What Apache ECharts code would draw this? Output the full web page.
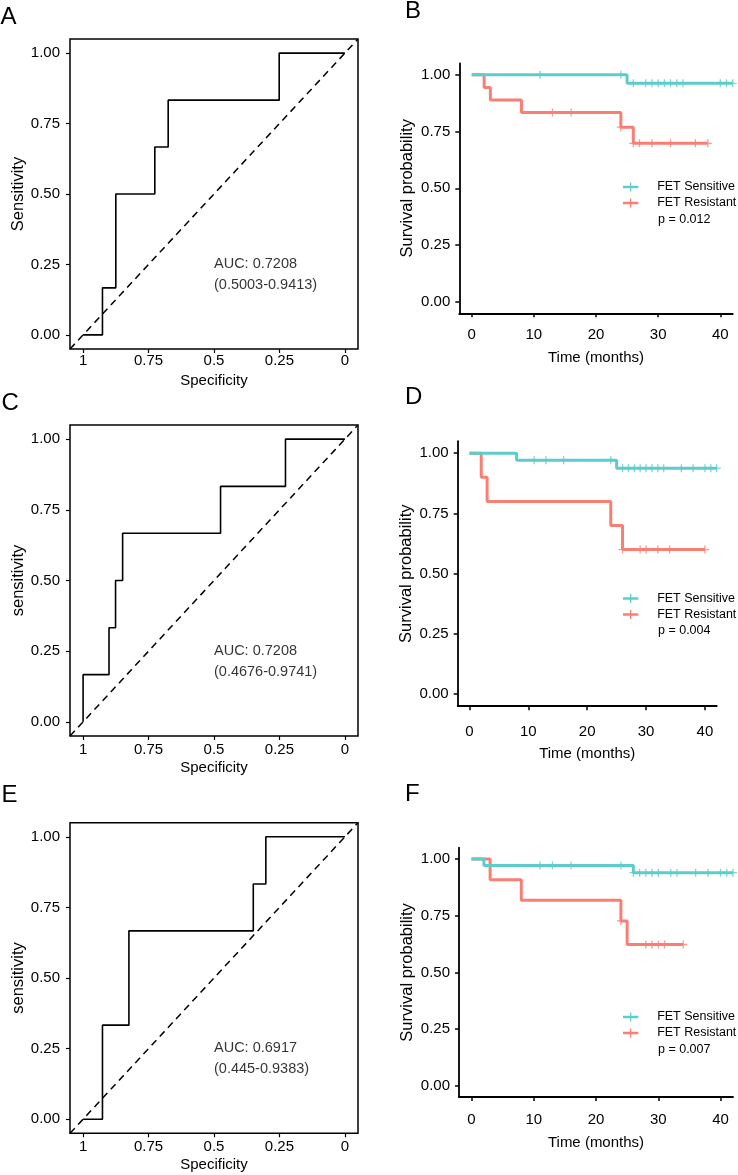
<!DOCTYPE html>
<html><head><meta charset="utf-8">
<script src="https://cdn.jsdelivr.net/npm/echarts@6/dist/echarts.min.js"></script>
<style>html,body{margin:0;padding:0;background:#fff}#c{width:738px;height:1175px}</style>
</head><body><div id="c"></div>
<script>
// ---------- tick labels ----------
const rocTicks = [0, 0.25, 0.5, 0.75, 1];
const kmTimeTicks = [0, 10, 20, 30, 40];
const kmSurvTicks = [0, 0.25, 0.5, 0.75, 1];

// ---------- ROC curves (specificity, sensitivity) ----------
const rocA_spec = [1, 0.926, 0.926, 0.875, 0.875, 0.726, 0.726, 0.675, 0.675, 0.251, 0.251, 0];
const rocA_sens = [0, 0, 0.167, 0.167, 0.5, 0.5, 0.667, 0.667, 0.833, 0.833, 1, 1];
const rocA_text = ['AUC: 0.7208', '(0.5003-0.9413)'];
const rocA_yName = 'Sensitivity';

const rocC_spec = [1, 1, 0.901, 0.901, 0.876, 0.876, 0.849, 0.849, 0.475, 0.475, 0.227, 0.227, 0];
const rocC_sens = [0, 0.167, 0.167, 0.333, 0.333, 0.5, 0.5, 0.667, 0.667, 0.833, 0.833, 1, 1];
const rocC_text = ['AUC: 0.7208', '(0.4676-0.9741)'];
const rocC_yName = 'sensitivity';

const rocE_spec = [1, 0.926, 0.926, 0.825, 0.825, 0.35, 0.35, 0.302, 0.302, 0];
const rocE_sens = [0, 0, 0.333, 0.333, 0.667, 0.667, 0.833, 0.833, 1, 1];
const rocE_text = ['AUC: 0.6917', '(0.445-0.9383)'];
const rocE_yName = 'sensitivity';

const aucAnchor = [0.5, 0.215];

// ---------- Kaplan-Meier curves ----------
const groups = ['FET Sensitive', 'FET Resistant'];

// B
const kmB_sens_time = [0, 25, 42];
const kmB_sens_surv = [1, 0.962, 0.962];
const kmB_sens_cens_time = [11, 24, 26, 28, 29, 30, 31, 32, 33, 34, 40, 41, 42];
const kmB_sens_cens_surv = [1, 1, 0.962, 0.962, 0.962, 0.962, 0.962, 0.962, 0.962, 0.962, 0.962, 0.962, 0.962];
const kmB_res_time = [0, 2, 3, 8, 24, 26, 38];
const kmB_res_surv = [1, 0.944, 0.889, 0.833, 0.769, 0.698, 0.698];
const kmB_res_cens_time = [13, 16, 24, 26, 27, 29, 32, 36, 38];
const kmB_res_cens_surv = [0.833, 0.833, 0.769, 0.698, 0.698, 0.698, 0.698, 0.698, 0.698];
const kmB_p = 'p = 0.012';

// D
const kmD_sens_time = [0, 8, 25, 42];
const kmD_sens_surv = [1, 0.971, 0.938, 0.938];
const kmD_sens_cens_time = [11, 13, 16, 24, 26, 27, 28, 29, 30, 31, 32, 33, 36, 38, 40, 41, 42];
const kmD_sens_cens_surv = [0.971, 0.971, 0.971, 0.971, 0.938, 0.938, 0.938, 0.938, 0.938, 0.938, 0.938, 0.938, 0.938, 0.938, 0.938, 0.938, 0.938];
const kmD_res_time = [0, 2, 3, 24, 26, 40];
const kmD_res_surv = [1, 0.9, 0.8, 0.7, 0.6, 0.6];
const kmD_res_cens_time = [26, 29, 30, 32, 34, 40];
const kmD_res_cens_surv = [0.6, 0.6, 0.6, 0.6, 0.6, 0.6];
const kmD_p = 'p = 0.004';

// F
const kmF_sens_time = [0, 2, 26, 42];
const kmF_sens_surv = [1, 0.971, 0.94, 0.94];
const kmF_sens_cens_time = [11, 13, 16, 24, 26, 27, 28, 29, 30, 32, 33, 36, 38, 40, 41, 42];
const kmF_sens_cens_surv = [0.971, 0.971, 0.971, 0.971, 0.94, 0.94, 0.94, 0.94, 0.94, 0.94, 0.94, 0.94, 0.94, 0.94, 0.94, 0.94];
const kmF_res_time = [0, 3, 8, 24, 25, 34];
const kmF_res_surv = [1, 0.909, 0.818, 0.727, 0.623, 0.623];
const kmF_res_cens_time = [24, 28, 29, 30, 31, 34];
const kmF_res_cens_surv = [0.727, 0.623, 0.623, 0.623, 0.623, 0.623];
const kmF_p = 'p = 0.007';

// ---------- styling / layout ----------
const FONT = "'Liberation Sans', Arial, sans-serif";
const TEAL = '#5ccccc';
const SALMON = '#f97f75';
const PLUS = 'path://M3.35,0H4.65V8H3.35Z M0,3.35H8V4.65H0Z';
const LEGEND_ICON = 'path://M0,3.5H17V6.5H0Z M7.8,0H9.2V10H7.8Z';

const zip = (a, b) => a.map((v, i) => [v, b[i]]);

const rocPanels = [
  { spec: rocA_spec, sens: rocA_sens, text: rocA_text, yName: rocA_yName, grid: { left: 70, top: 39, width: 288, height: 310 }, lblMargin: 4 },
  { spec: rocC_spec, sens: rocC_sens, text: rocC_text, yName: rocC_yName, grid: { left: 70, top: 425, width: 288, height: 311 }, lblMargin: 6 },
  { spec: rocE_spec, sens: rocE_sens, text: rocE_text, yName: rocE_yName, grid: { left: 70, top: 822.7, width: 288, height: 310.6 }, lblMargin: 6 }
];
const kmPanels = [
  { s: [kmB_sens_time, kmB_sens_surv, kmB_sens_cens_time, kmB_sens_cens_surv], r: [kmB_res_time, kmB_res_surv, kmB_res_cens_time, kmB_res_cens_surv], p: kmB_p,
    grid: { left: 459.3, top: 63.3, width: 273.4, height: 250 }, legTop: 180.5, pY: 219.3, lblMargin: 14, nameGap: 37 },
  { s: [kmD_sens_time, kmD_sens_surv, kmD_sens_cens_time, kmD_sens_cens_surv], r: [kmD_res_time, kmD_res_surv, kmD_res_cens_time, kmD_res_cens_surv], p: kmD_p,
    grid: { left: 457.7, top: 441.2, width: 259, height: 265 }, legTop: 592, pY: 630.7, lblMargin: 18, nameGap: 40 },
  { s: [kmF_sens_time, kmF_sens_surv, kmF_sens_cens_time, kmF_sens_cens_surv], r: [kmF_res_time, kmF_res_surv, kmF_res_cens_time, kmF_res_cens_surv], p: kmF_p,
    grid: { left: 459, top: 847.7, width: 274, height: 249.4 }, legTop: 1010.5, pY: 1049.3, lblMargin: 15, nameGap: 38 }
];

const grids = [], xAxes = [], yAxes = [], series = [], legends = [], graphics = [];

rocPanels.forEach((p, i) => {
  grids.push(Object.assign({ show: true, borderColor: '#000', borderWidth: 1.5, backgroundColor: 'transparent' }, p.grid));
  xAxes.push({
    gridIndex: i, type: 'value', min: -0.05, max: 1.05, inverse: true, position: 'bottom',
    axisLine: { show: false, onZero: false }, splitLine: { show: false },
    axisTick: { show: true, customValues: rocTicks, length: 4, lineStyle: { color: '#000', width: 1.2 } },
    axisLabel: { customValues: rocTicks, color: '#000', fontSize: 15, fontFamily: FONT, margin: p.lblMargin },
    name: 'Specificity', nameLocation: 'middle', nameGap: 24,
    nameTextStyle: { color: '#000', fontSize: 15, fontFamily: FONT }
  });
  yAxes.push({
    gridIndex: i, type: 'value', min: -0.05, max: 1.05, position: 'left',
    axisLine: { show: false, onZero: false }, splitLine: { show: false },
    axisTick: { show: true, customValues: rocTicks, length: 4, lineStyle: { color: '#000', width: 1.2 } },
    axisLabel: { customValues: rocTicks, color: '#000', fontSize: 15, fontFamily: FONT, margin: 10, formatter: v => v.toFixed(2) },
    name: p.yName, nameLocation: 'middle', nameRotate: 90, nameGap: 43,
    nameTextStyle: { color: '#000', fontSize: 16.5, fontFamily: FONT }
  });
  series.push({
    type: 'line', xAxisIndex: i, yAxisIndex: i, symbol: 'none', silent: true,
    data: [[1.05, -0.05], [-0.05, 1.05]],
    lineStyle: { color: '#000', width: 1.5, type: [7, 5] }, z: 2
  });
  series.push({
    type: 'line', xAxisIndex: i, yAxisIndex: i, symbol: 'none',
    data: zip(p.spec, p.sens),
    lineStyle: { color: '#000', width: 1.6 }, z: 3
  });
  series.push({
    type: 'scatter', xAxisIndex: i, yAxisIndex: i, symbolSize: 0, silent: true,
    data: [aucAnchor],
    label: { show: true, position: 'right', distance: 0, align: 'left', verticalAlign: 'middle',
      formatter: p.text.join('\n'), color: '#000', fontSize: 14.5, lineHeight: 21, fontFamily: FONT }
  });
});

kmPanels.forEach((p, k) => {
  const i = k + 3;
  grids.push(Object.assign({ show: false }, p.grid));
  xAxes.push({
    gridIndex: i, type: 'value', min: -2, max: 42, position: 'bottom',
    axisLine: { show: true, onZero: false, lineStyle: { color: '#000', width: 1.8 } },
    splitLine: { show: false },
    axisTick: { show: true, customValues: kmTimeTicks, length: 4, lineStyle: { color: '#000', width: 1.5 } },
    axisLabel: { customValues: kmTimeTicks, color: '#000', fontSize: 15, fontFamily: FONT, margin: p.lblMargin },
    name: 'Time (months)', nameLocation: 'middle', nameGap: p.nameGap,
    nameTextStyle: { color: '#000', fontSize: 15, fontFamily: FONT }
  });
  yAxes.push({
    gridIndex: i, type: 'value', min: -0.05, max: 1.05, position: 'left',
    axisLine: { show: true, onZero: false, lineStyle: { color: '#000', width: 1.8 } },
    splitLine: { show: false },
    axisTick: { show: true, customValues: kmSurvTicks, length: 4, lineStyle: { color: '#000', width: 1.5 } },
    axisLabel: { customValues: kmSurvTicks, color: '#000', fontSize: 15, fontFamily: FONT, margin: 9, formatter: v => v.toFixed(2) },
    name: 'Survival probability', nameLocation: 'middle', nameRotate: 90, nameGap: 43,
    nameTextStyle: { color: '#000', fontSize: 16.5, fontFamily: FONT }
  });
  [[p.r, groups[1], SALMON, 4], [p.s, groups[0], TEAL, 6]].forEach(([d, name, color, z]) => {
    series.push({
      type: 'line', name, xAxisIndex: i, yAxisIndex: i, step: 'end', symbol: 'none',
      data: zip(d[0], d[1]), color, lineStyle: { color, width: 3 }, z
    });
    series.push({
      type: 'scatter', name, xAxisIndex: i, yAxisIndex: i, symbol: PLUS, symbolSize: [8, 8],
      data: zip(d[2], d[3]), itemStyle: { color }, z: z + 1
    });
  });
  legends.push({
    orient: 'vertical', left: 623, top: p.legTop, padding: 0, itemWidth: 17, itemHeight: 9, itemGap: 3,
    icon: LEGEND_ICON, selectedMode: false,
    textStyle: { color: '#000', fontSize: 12.5, fontFamily: FONT, padding: [0, 0, 0, 13] },
    data: groups.map((g, j) => ({ name: g, itemStyle: { color: j === 0 ? TEAL : SALMON } }))
  });
  graphics.push({ type: 'text', x: 658, y: p.pY,
    style: { text: p.p, fill: '#000', fontSize: 12.5, fontFamily: FONT, align: 'left', verticalAlign: 'middle' } });
});

const letters = [['A', 0.5, 17.5], ['B', 405, 11], ['C', 1.5, 403], ['D', 405, 397], ['E', 1.5, 795], ['F', 405, 794]];
letters.forEach(([t, x, y]) => graphics.push({ type: 'text', x, y,
  style: { text: t, fill: '#000', fontSize: 24, fontFamily: FONT, align: 'left', verticalAlign: 'middle' } }));

const chart = echarts.init(document.getElementById('c'), null, { renderer: 'canvas' });
chart.setOption({
  animation: false,
  backgroundColor: '#fff',
  grid: grids, xAxis: xAxes, yAxis: yAxes, series, legend: legends, graphic: graphics
});
</script></body></html>
